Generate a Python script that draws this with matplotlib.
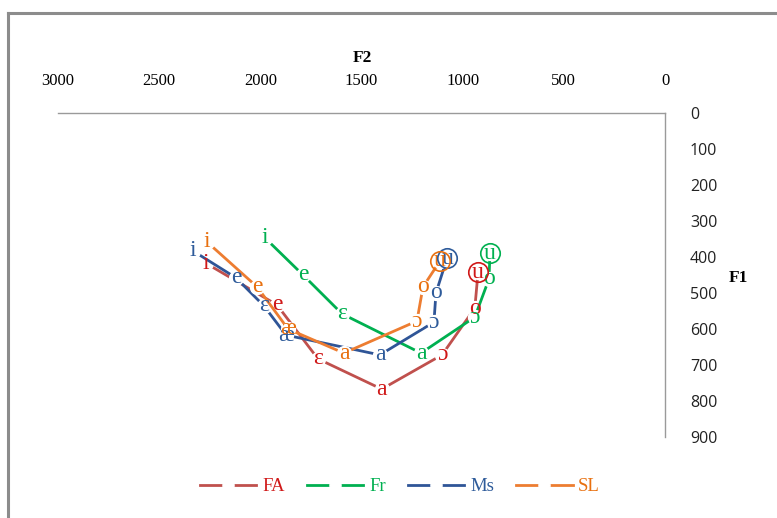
import matplotlib.pyplot as plt
from matplotlib.lines import Line2D

# vowel formants (F2, F1 in Hz)
fa_vowels = ['i', 'e', 'ɛ', 'a', 'ɔ', 'o', 'u']
fa_f2 = [2270, 1918, 1715, 1400, 1102, 940, 924]
fa_f1 = [417, 533, 683, 767, 672, 542, 442]

fr_vowels = ['i', 'e', 'ɛ', 'a', 'ɔ', 'o', 'u']
fr_f2 = [1977, 1789, 1596, 1206, 940, 870, 865]
fr_f1 = [347, 450, 558, 667, 567, 461, 389]

ms_vowels = ['i', 'e', 'ɛ', 'æ', 'a', 'ɔ', 'o', 'u']
ms_f2 = [2333, 2120, 1982, 1873, 1409, 1142, 1132, 1077]
ms_f1 = [383, 458, 536, 617, 672, 581, 500, 403]

sl_vowels = ['i', 'e', 'æ', 'a', 'ɔ', 'o', 'u']
sl_f2 = [2264, 2016, 1863, 1587, 1226, 1196, 1112]
sl_f1 = [358, 483, 600, 667, 578, 483, 411]

names = ['FA', 'Fr', 'Ms', 'SL']
line_colors = ['#C0504D', '#00B050', '#2F5597', '#ED7D31']
text_colors = ['#D01818', '#00B050', '#2E5B9A', '#E8700F']

series = [(fa_vowels, fa_f2, fa_f1), (fr_vowels, fr_f2, fr_f1),
          (ms_vowels, ms_f2, ms_f1), (sl_vowels, sl_f2, sl_f1)]

serif = ['Liberation Serif', 'DejaVu Serif']

fig = plt.figure(figsize=(7.77, 5.18), dpi=100)
ax = fig.add_axes([0.0746, 0.1564, 0.7813, 0.6255])

handles = []
for (vow, f2, f1), name, lc, tc in zip(series, names, line_colors, text_colors):
    ax.plot(f2, f1, color=lc, lw=2.0, marker='o', ms=10,
            mfc='white', mec='white', zorder=2)
    for v, x, y in zip(vow, f2, f1):
        ax.text(x, y, v, color=tc, fontsize=17, family=serif,
                ha='center', va='center', zorder=3)
    # circled u at the back vowel
    ax.plot(f2[-1], f1[-1], 'o', ms=14, mfc='none', mec=tc, mew=1.2, zorder=4)
    handles.append(Line2D([0], [0], color=lc, lw=2.0, marker='o', ms=8,
                          mfc='white', mec='white', label=name))

ax.set_xlim(3000, 0)
ax.set_ylim(900, 0)
ax.set_xticks(range(3000, -1, -500))
ax.set_yticks(range(0, 901, 100))
ax.xaxis.tick_top()
ax.yaxis.tick_right()
ax.tick_params(length=0)
ax.tick_params(axis='x', pad=17)
ax.tick_params(axis='y', pad=18)
for lab in ax.get_xticklabels():
    lab.set_family(serif)
    lab.set_fontsize(12)
for lab in ax.get_yticklabels():
    lab.set_family(['Open Sans', 'DejaVu Sans'])
    lab.set_fontsize(11.5)
    lab.set_color('#222222')

for side in ['left', 'bottom']:
    ax.spines[side].set_visible(False)
for side in ['top', 'right']:
    ax.spines[side].set_color('#9A9A9A')
    ax.spines[side].set_linewidth(1.0)

fig.text(0.466, 0.888, 'F2', family=serif, fontsize=12.5, fontweight='bold',
         ha='center', va='center')
fig.text(0.95, 0.463, 'F1', family=serif, fontsize=12.5, fontweight='bold',
         ha='center', va='center')

leg = fig.legend(handles=handles, loc='center', bbox_to_anchor=(0.515, 0.06),
                 ncol=4, frameon=False, handlelength=3.0, handletextpad=0.3,
                 columnspacing=1.2, prop={'family': serif, 'size': 13.5})
for txt, tc in zip(leg.get_texts(), text_colors):
    txt.set_color(tc)

# outer chart frame (only left and top edges are visible)
fig.add_artist(Line2D([7.5 / 777, 7.5 / 777], [1 - 13 / 518, 0], color='#8C8C8C',
                      lw=2.2, transform=fig.transFigure))
fig.add_artist(Line2D([7.5 / 777, 1], [1 - 13 / 518, 1 - 13 / 518], color='#8C8C8C',
                      lw=2.2, transform=fig.transFigure))

fig.savefig('out.png', dpi=100)
